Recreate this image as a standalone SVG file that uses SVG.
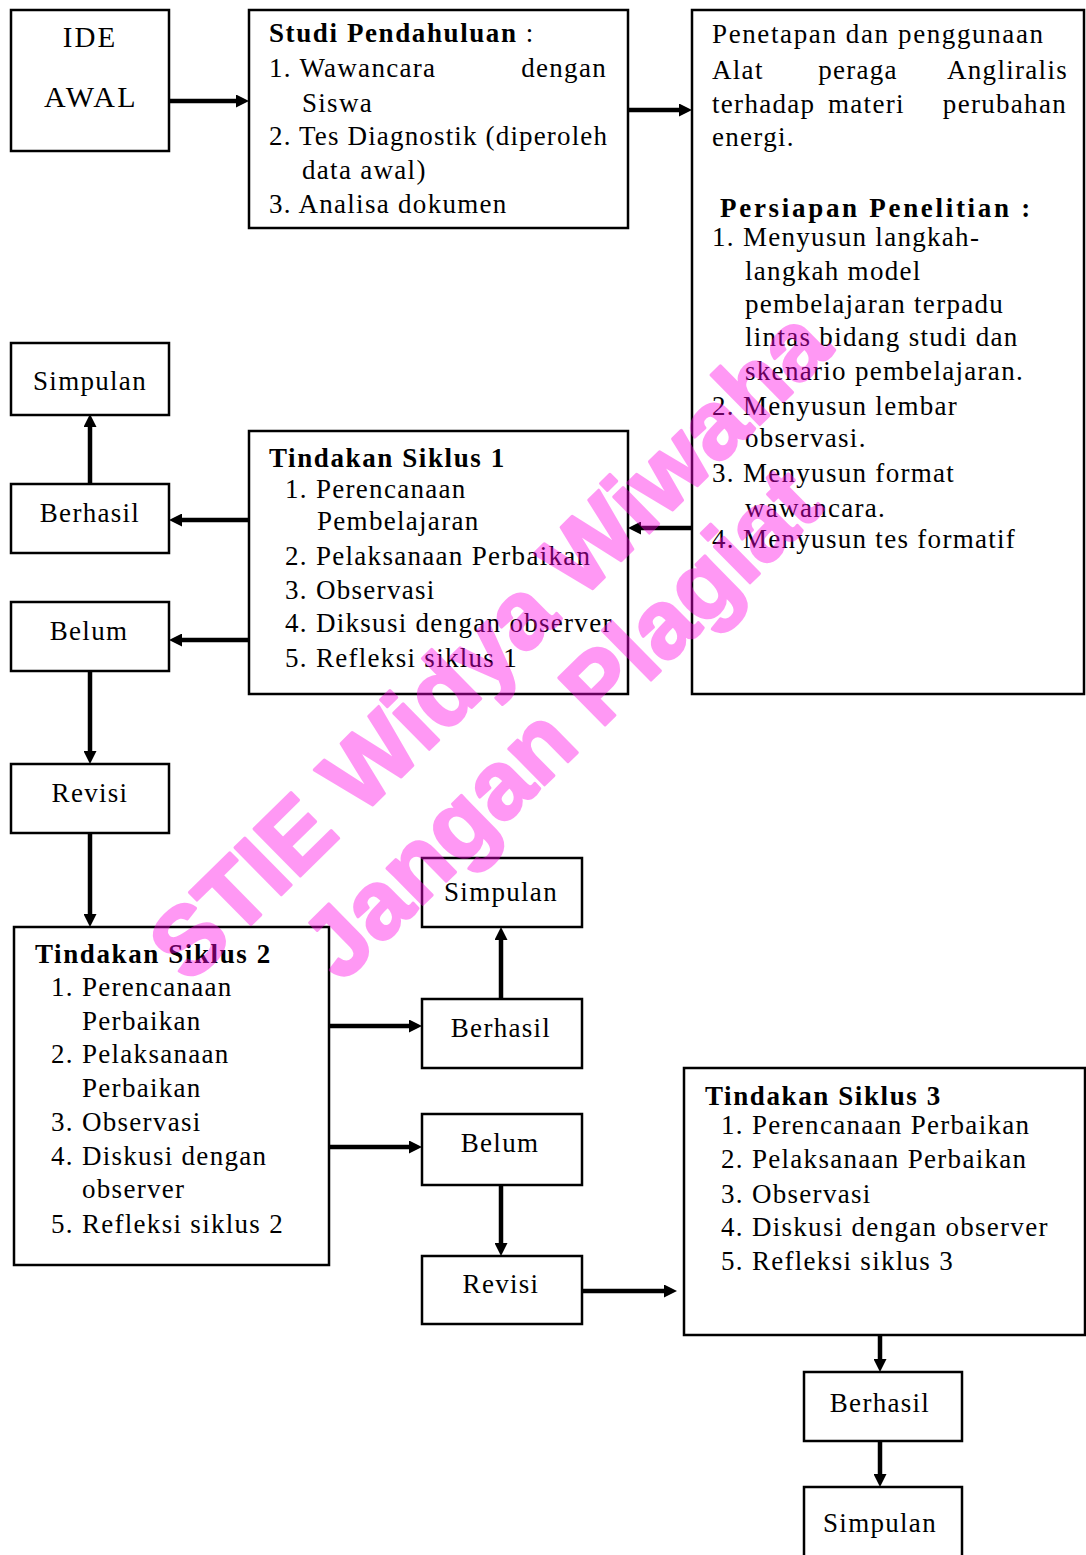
<svg xmlns="http://www.w3.org/2000/svg" width="1086" height="1555" viewBox="0 0 1086 1555">
<style>
.box{fill:#fff;stroke:#000;stroke-width:2.5}
.t{font-family:"Liberation Serif","Times New Roman",serif;font-size:27px;fill:#000;letter-spacing:1.3px}
.b{font-weight:bold;letter-spacing:1.6px}
.c{text-anchor:middle}
.e{text-anchor:end}
.conn line{stroke:#000;stroke-width:4.5}
.wm{font-family:"Liberation Sans",Arial,sans-serif;font-weight:bold;font-size:96px;fill:#ff00e6;stroke:#ff00e6;stroke-width:3;stroke-linejoin:round;text-anchor:middle}
</style>
<defs>
<marker id="ah" viewBox="0 0 13 13" markerWidth="13" markerHeight="13" refX="3" refY="6.5" orient="auto" markerUnits="userSpaceOnUse">
<path d="M0,0 L13,6.5 L0,13 z" fill="#000"/>
</marker>
</defs>
<rect width="1086" height="1555" fill="#fff"/>

<g id="conn" class="conn">
<line x1="169" y1="101" x2="239" y2="101" marker-end="url(#ah)"/>
<line x1="628" y1="110" x2="682" y2="110" marker-end="url(#ah)"/>
<line x1="692" y1="528" x2="638" y2="528" marker-end="url(#ah)"/>
<line x1="249" y1="520" x2="179" y2="520" marker-end="url(#ah)"/>
<line x1="249" y1="640" x2="179" y2="640" marker-end="url(#ah)"/>
<line x1="90" y1="484" x2="90" y2="424" marker-end="url(#ah)"/>
<line x1="90" y1="671" x2="90" y2="754" marker-end="url(#ah)"/>
<line x1="90" y1="833" x2="90" y2="917" marker-end="url(#ah)"/>
<line x1="329" y1="1026" x2="412" y2="1026" marker-end="url(#ah)"/>
<line x1="329" y1="1147" x2="412" y2="1147" marker-end="url(#ah)"/>
<line x1="501" y1="999" x2="501" y2="937" marker-end="url(#ah)"/>
<line x1="501" y1="1185" x2="501" y2="1246" marker-end="url(#ah)"/>
<line x1="582" y1="1291" x2="667" y2="1291" marker-end="url(#ah)"/>
<line x1="880" y1="1329" x2="880" y2="1362" marker-end="url(#ah)"/>
<line x1="880" y1="1441" x2="880" y2="1477" marker-end="url(#ah)"/>
</g>

<g id="ide-awal">
<rect class="box" x="11" y="10" width="158" height="141"/>
<text class="t c" x="90" y="47" style="font-size:29px;letter-spacing:2px">IDE</text>
<text class="t c" x="91" y="107" style="font-size:30px;letter-spacing:2.5px">AWAL</text>
</g>

<g id="studi-pendahuluan">
<rect class="box" x="249" y="10" width="379" height="218"/>
<text class="t" x="269" y="42"><tspan style="font-weight:bold;letter-spacing:1.6px">Studi Pendahuluan</tspan> :</text>
<text class="t" x="269" y="77">1. Wawancara</text>
<text class="t e" x="607" y="77">dengan</text>
<text class="t" x="302" y="112">Siswa</text>
<text class="t" x="269" y="145" textLength="338" lengthAdjust="spacing" style="letter-spacing:0">2. Tes Diagnostik (diperoleh</text>
<text class="t" x="302" y="179">data awal)</text>
<text class="t" x="269" y="213">3. Analisa dokumen</text>
</g>

<g id="persiapan">
<rect class="box" x="692" y="10" width="392" height="684"/>
<text class="t" x="712" y="43" textLength="331" lengthAdjust="spacing" style="letter-spacing:0">Penetapan dan penggunaan</text>
<text class="t" x="712" y="79">Alat</text>
<text class="t c" x="858" y="79">peraga</text>
<text class="t e" x="1068" y="79">Angliralis</text>
<text class="t" x="712" y="113">terhadap</text>
<text class="t" x="828" y="113">materi</text>
<text class="t e" x="1067" y="113">perubahan</text>
<text class="t" x="712" y="146">energi.</text>
<text class="t b" x="720" y="217" style="letter-spacing:2.7px">Persiapan Penelitian :</text>
<text class="t" x="712" y="246">1. Menyusun langkah-</text>
<text class="t" x="745" y="280">langkah model</text>
<text class="t" x="745" y="313">pembelajaran terpadu</text>
<text class="t" x="745" y="346">lintas bidang studi dan</text>
<text class="t" x="745" y="380">skenario pembelajaran.</text>
<text class="t" x="712" y="415">2. Menyusun lembar</text>
<text class="t" x="745" y="447">observasi.</text>
<text class="t" x="712" y="482">3. Menyusun format</text>
<text class="t" x="745" y="517">wawancara.</text>
<text class="t" x="712" y="548">4. Menyusun tes formatif</text>
</g>

<g id="simpulan-1">
<rect class="box" x="11" y="343" width="158" height="72"/>
<text class="t c" x="90" y="390">Simpulan</text>
</g>
<g id="berhasil-1">
<rect class="box" x="11" y="484" width="158" height="69"/>
<text class="t c" x="90" y="522">Berhasil</text>
</g>
<g id="belum-1">
<rect class="box" x="11" y="602" width="158" height="69"/>
<text class="t c" x="89" y="640">Belum</text>
</g>
<g id="revisi-1">
<rect class="box" x="11" y="764" width="158" height="69"/>
<text class="t c" x="90" y="802">Revisi</text>
</g>

<g id="tindakan-1">
<rect class="box" x="249" y="431" width="379" height="263"/>
<text class="t b" x="269" y="467">Tindakan Siklus 1</text>
<text class="t" x="285" y="498">1. Perencanaan</text>
<text class="t" x="317" y="530">Pembelajaran</text>
<text class="t" x="285" y="565">2. Pelaksanaan Perbaikan</text>
<text class="t" x="285" y="599">3. Observasi</text>
<text class="t" x="285" y="632">4. Diksusi dengan observer</text>
<text class="t" x="285" y="667">5. Refleksi siklus 1</text>
</g>

<g id="tindakan-2">
<rect class="box" x="14" y="927" width="315" height="338"/>
<text class="t b" x="35" y="963">Tindakan Siklus 2</text>
<text class="t" x="51" y="996">1. Perencanaan</text>
<text class="t" x="82" y="1030">Perbaikan</text>
<text class="t" x="51" y="1063">2. Pelaksanaan</text>
<text class="t" x="82" y="1097">Perbaikan</text>
<text class="t" x="51" y="1131">3. Observasi</text>
<text class="t" x="51" y="1165">4. Diskusi dengan</text>
<text class="t" x="82" y="1198">observer</text>
<text class="t" x="51" y="1233">5. Refleksi siklus 2</text>
</g>

<g id="simpulan-2">
<rect class="box" x="422" y="858" width="160" height="69"/>
<text class="t c" x="501" y="901">Simpulan</text>
</g>
<g id="berhasil-2">
<rect class="box" x="422" y="999" width="160" height="69"/>
<text class="t c" x="501" y="1037">Berhasil</text>
</g>
<g id="belum-2">
<rect class="box" x="422" y="1114" width="160" height="71"/>
<text class="t c" x="500" y="1152">Belum</text>
</g>
<g id="revisi-2">
<rect class="box" x="422" y="1256" width="160" height="68"/>
<text class="t c" x="501" y="1293">Revisi</text>
</g>

<g id="tindakan-3">
<rect class="box" x="684" y="1068" width="401" height="267"/>
<text class="t b" x="705" y="1105">Tindakan Siklus 3</text>
<text class="t" x="721" y="1134">1. Perencanaan Perbaikan</text>
<text class="t" x="721" y="1168">2. Pelaksanaan Perbaikan</text>
<text class="t" x="721" y="1203">3. Observasi</text>
<text class="t" x="721" y="1236">4. Diskusi dengan observer</text>
<text class="t" x="721" y="1270">5. Refleksi siklus 3</text>
</g>

<g id="berhasil-3">
<rect class="box" x="804" y="1372" width="158" height="69"/>
<text class="t c" x="880" y="1412">Berhasil</text>
</g>
<g id="simpulan-3">
<rect class="box" x="804" y="1487" width="158" height="90"/>
<text class="t c" x="880" y="1532">Simpulan</text>
</g>

<g id="watermark" opacity="0.4" transform="translate(512,668) rotate(-44.5)">
<text class="wm" x="0" y="0">STIE Widya Wiwaha</text>
<text class="wm" x="-4" y="106">Jangan Plagiat</text>
</g>
</svg>
